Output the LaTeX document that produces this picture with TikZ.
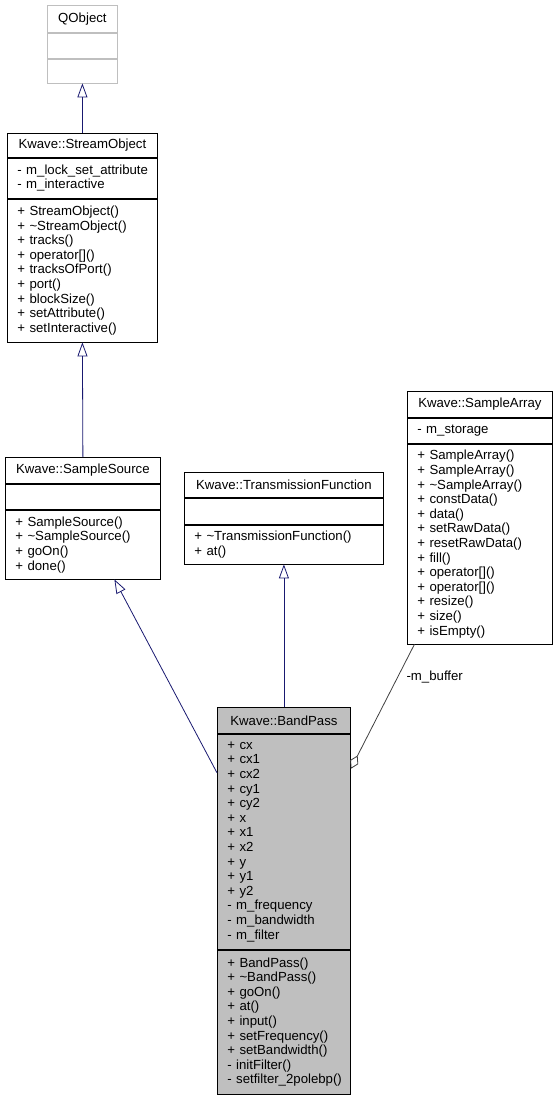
\documentclass[tikz,border=0pt]{standalone}
\usepackage{fontspec}
\setmainfont{Liberation Sans}
\usetikzlibrary{arrows.meta}

\definecolor{edgeblue}{HTML}{191970}
\definecolor{edgegray}{HTML}{404040}
\definecolor{boxgray}{HTML}{BFBFBF}

\begin{document}
\begin{tikzpicture}[x=1pt, y=-1pt,
  every node/.style={font=\fontsize{13.2pt}{14.6pt}\selectfont},
  head/.style={draw, line width=0.8pt, inner sep=0pt, anchor=north west, align=center},
  part/.style={draw, line width=0.8pt, inner xsep=10pt, inner ysep=0pt, anchor=north west, align=left,
    execute at begin node={\hyphenpenalty=10000\exhyphenpenalty=10000}},
  inherit/.style={draw=edgeblue, line width=0.8pt, -{Triangle[open, length=14pt, width=10pt]}},
  member/.style={draw=edgegray, line width=0.8pt, -{Diamond[open, length=15pt, width=9pt]}}]

\useasboundingbox (0,0) rectangle (558,1097);

% QObject
\node[head, draw=boxgray, minimum width=70pt, minimum height=27pt] (qo) at (47,5) {QObject};
\node[part, draw=boxgray, minimum width=70pt, minimum height=25pt] (qo-a) at (qo.south west) {};
\node[part, draw=boxgray, minimum width=70pt, minimum height=24pt] (qo-o) at (qo-a.south west) {};

% Kwave::StreamObject
\node[head, minimum width=150pt, minimum height=24pt] (so) at (7,133) {Kwave::StreamObject};
\node[part, minimum width=150pt, minimum height=40pt, text width=130pt] (so-a) at (so.south west)
  {-~m\_lock\_set\_attribute\\- m\_interactive};
\node[part, minimum width=150pt, minimum height=143pt, text width=130pt] (so-o) at (so-a.south west)
  {+ StreamObject()\\+ \textasciitilde StreamObject()\\+ tracks()\\+ operator[]()\\+ tracksOfPort()\\+ port()\\+ blockSize()\\+ setAttribute()\\+ setInteractive()};

% Kwave::SampleSource
\node[head, minimum width=155pt, minimum height=26pt] (ss) at (5,457) {Kwave::SampleSource};
\node[part, minimum width=155pt, minimum height=25.5pt] (ss-a) at (ss.south west) {};
\node[part, minimum width=155pt, minimum height=68.5pt, text width=135pt] (ss-o) at (ss-a.south west)
  {+ SampleSource()\\+ \textasciitilde SampleSource()\\+ goOn()\\+ done()};

% Kwave::TransmissionFunction
\node[head, minimum width=199pt, minimum height=25pt] (tf) at (184,472) {Kwave::TransmissionFunction};
\node[part, minimum width=199pt, minimum height=26pt] (tf-a) at (tf.south west) {};
\node[part, minimum width=199pt, minimum height=39pt, text width=179pt] (tf-o) at (tf-a.south west)
  {+ \textasciitilde TransmissionFunction()\\+ at()};

% Kwave::SampleArray
\node[head, minimum width=145pt, minimum height=26pt] (sa) at (407,391) {Kwave::SampleArray};
\node[part, minimum width=145pt, minimum height=25pt, text width=125pt] (sa-a) at (sa.south west)
  {- m\_storage};
\node[part, minimum width=145pt, minimum height=200pt, text width=125pt] (sa-o) at (sa-a.south west)
  {+ SampleArray()\\+ SampleArray()\\+ \textasciitilde SampleArray()\\+ constData()\\+ data()\\+ setRawData()\\+ resetRawData()\\+ fill()\\+ operator[]()\\+ operator[]()\\+ resize()\\+ size()\\+ isEmpty()};

% Kwave::BandPass
\node[head, fill=boxgray, minimum width=133pt, minimum height=26pt] (bp) at (217,707) {Kwave::BandPass};
\node[part, fill=boxgray, minimum width=133pt, minimum height=215pt, text width=113pt] (bp-a) at (bp.south west)
  {+ cx\\+ cx1\\+ cx2\\+ cy1\\+ cy2\\+ x\\+ x1\\+ x2\\+ y\\+ y1\\+ y2\\- m\_frequency\\- m\_bandwidth\\- m\_filter};
\node[part, fill=boxgray, minimum width=133pt, minimum height=144pt, text width=113pt] (bp-o) at (bp-a.south west)
  {+ BandPass()\\+ \textasciitilde BandPass()\\+ goOn()\\+ at()\\+ input()\\+ setFrequency()\\+ setBandwidth()\\- initFilter()\\-~setfilter\_2polebp()};

% relations
\draw[inherit] (so.north) -- (qo-o.south);
\draw[inherit] (ss.north) -- (so-o.south);
\draw[inherit] (bp.north) -- (tf-o.south);
\draw[inherit] ([yshift=-39pt]bp-a.north west) -- ([xshift=31.5pt]ss-o.south);
\draw[member] ([xshift=-65.5pt]sa-o.south) -- node[pos=0.26, anchor=west, xshift=5pt] (buf) {-m\_buffer} ([yshift=-35pt]bp-a.north east);

\end{tikzpicture}
\end{document}
